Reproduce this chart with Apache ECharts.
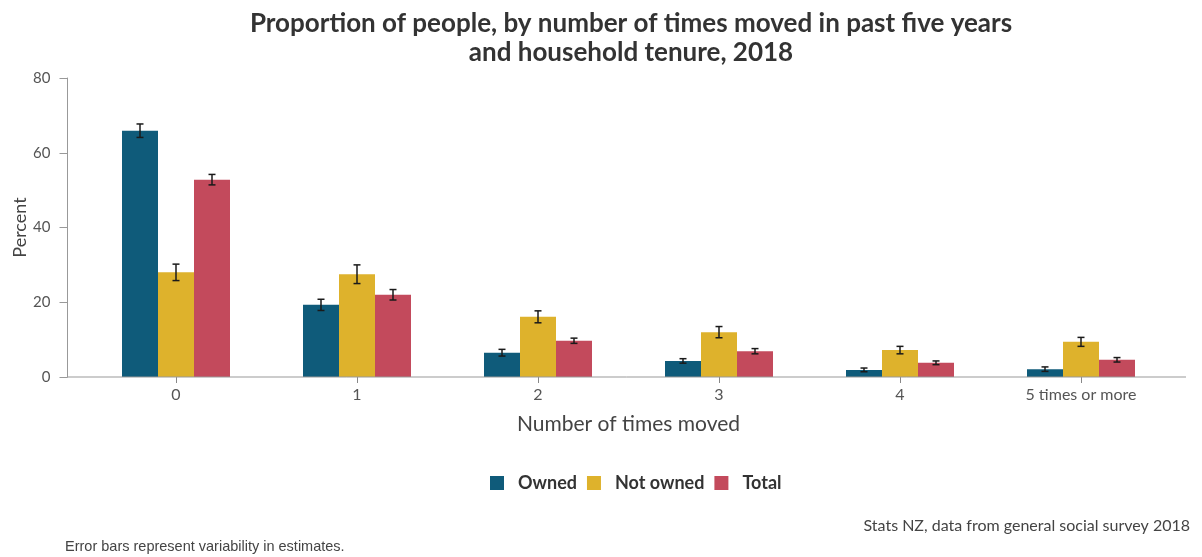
<!DOCTYPE html>
<html>
<head>
<meta charset="utf-8">
<script src="https://cdn.jsdelivr.net/npm/echarts@6/dist/echarts.min.js"></script>
<style>
html,body{margin:0;padding:0;background:#fff;}
#chart{width:1202px;height:557px;}
</style>
</head>
<body>
<div id="chart"></div>
<script>
var categories = ['0', '1', '2', '3', '4', '5 times or more'];
var owned      = [65.9, 19.3, 6.5, 4.3, 1.9, 2.1];
var notOwned   = [28.0, 27.5, 16.1, 12.0, 7.2, 9.4];
var total      = [52.8, 22.0, 9.7, 6.9, 3.8, 4.6];
var ownedErr    = [1.8, 1.5, 0.9, 0.6, 0.5, 0.6];
var notOwnedErr = [2.2, 2.5, 1.6, 1.5, 1.0, 1.2];
var totalErr    = [1.4, 1.4, 0.7, 0.7, 0.5, 0.6];
var yTicks = [0, 20, 40, 60, 80];
var seriesNames = ['Owned', 'Not owned', 'Total'];
var colors = ['#0f5b7a', '#deb22c', '#c34a5c'];

var chart = echarts.init(document.getElementById('chart'), null, {renderer: 'canvas'});
var BAR_W = 36;

function errSeries(vals, errs, idx) {
  var data = vals.map(function (v, i) { return [i, v - errs[i], v + errs[i]]; });
  return {
    type: 'custom',
    name: seriesNames[idx] + ' error',
    z: 10,
    silent: true,
    data: data,
    encode: {x: 0, y: [1, 2]},
    renderItem: function (params, api) {
      var lo = api.coord([api.value(0), api.value(1)]);
      var hi = api.coord([api.value(0), api.value(2)]);
      var x = lo[0] + (idx - 1) * BAR_W;
      var cap = 3.5;
      var st = {stroke: '#1a1a1a', lineWidth: 1.5};
      return {
        type: 'group',
        children: [
          {type: 'line', shape: {x1: x, y1: lo[1], x2: x, y2: hi[1]}, style: st},
          {type: 'line', shape: {x1: x - cap, y1: lo[1], x2: x + cap, y2: lo[1]}, style: st},
          {type: 'line', shape: {x1: x - cap, y1: hi[1], x2: x + cap, y2: hi[1]}, style: st}
        ]
      };
    }
  };
}

var option = {
  backgroundColor: '#fff',
  animation: false,
  textStyle: {fontFamily: 'Lato'},
  title: {
    text: 'Proportion of people, by number of times moved in past five years\nand household tenure, 2018',
    left: 626,
    textAlign: 'center',
    top: 4,
    textStyle: {fontFamily: 'Lato', fontWeight: 'bold', fontSize: 26, color: '#333', lineHeight: 29}
  },
  legend: {
    data: seriesNames,
    top: 469,
    left: 485,
    itemWidth: 14,
    itemHeight: 14,
    itemGap: 10,
    icon: 'rect',
    textStyle: {fontFamily: 'Lato', fontWeight: 'bold', fontSize: 18, color: '#333', padding: [0, 0, 0, 9]}
  },
  grid: {left: 85.5, right: 30.5, top: 78, bottom: 180, containLabel: false, outerBoundsMode: 'none'},
  xAxis: {
    type: 'category',
    data: categories,
    name: 'Number of times moved',
    nameLocation: 'middle',
    nameGap: 37,
    nameMoveOverlap: false,
    nameTextStyle: {fontFamily: 'Lato', fontSize: 21, color: '#444'},
    axisLine: {show: false},
    axisTick: {show: true, alignWithLabel: true, length: 6, lineStyle: {color: '#888'}},
    axisLabel: {fontFamily: 'Lato', fontSize: 16, color: '#555', margin: 10}
  },
  yAxis: {
    type: 'value',
    min: 0, max: 80, interval: 20,
    offset: 18,
    name: 'Percent',
    nameLocation: 'middle',
    nameGap: 38,
    nameMoveOverlap: false,
    nameTextStyle: {fontFamily: 'Lato', fontSize: 18, color: '#444'},
    axisLine: {show: true, lineStyle: {color: '#999'}},
    axisTick: {show: true, length: 8, lineStyle: {color: '#999'}},
    axisLabel: {fontFamily: 'Lato', fontSize: 15, color: '#555', margin: 17,
      formatter: function (v) { return yTicks.indexOf(v) >= 0 ? String(v) : ''; }},
    splitLine: {show: false}
  },
  graphic: [
    {type: 'line', shape: {x1: 67, y1: 377, x2: 1186, y2: 377}, style: {stroke: '#999', lineWidth: 1}, z: 5},
    {type: 'text', right: 12, top: 518, style: {text: 'Stats NZ, data from general social survey 2018', font: '16px Lato', fill: '#444'}},
    {type: 'text', left: 65, top: 539, style: {text: 'Error bars represent variability in estimates.', font: '14.5px "Liberation Sans"', fill: '#444'}}
  ],
  series: [
    {name: 'Owned', type: 'bar', data: owned, barWidth: BAR_W, barGap: '0%', itemStyle: {color: colors[0]}},
    {name: 'Not owned', type: 'bar', data: notOwned, barWidth: BAR_W, barGap: '0%', itemStyle: {color: colors[1]}},
    {name: 'Total', type: 'bar', data: total, barWidth: BAR_W, barGap: '0%', itemStyle: {color: colors[2]}},
    errSeries(owned, ownedErr, 0),
    errSeries(notOwned, notOwnedErr, 1),
    errSeries(total, totalErr, 2)
  ]
};
chart.setOption(option);
</script>
</body>
</html>
